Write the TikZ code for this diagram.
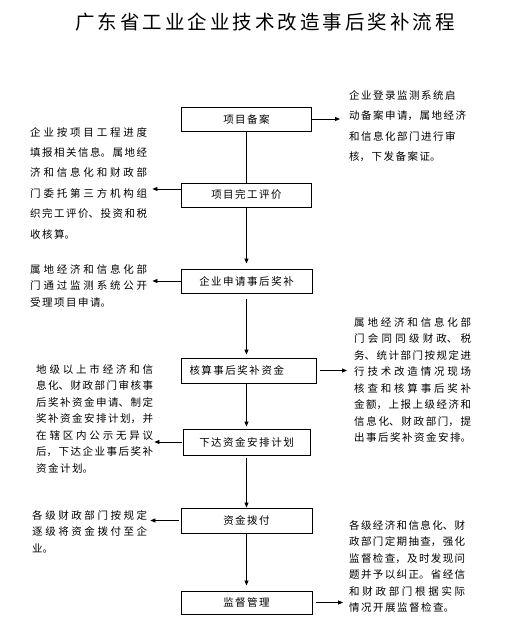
\documentclass[tikz,border=0pt]{standalone}
\usepackage{fontspec}
\setmainfont{Noto Sans CJK SC}
\usetikzlibrary{arrows.meta,positioning}
\XeTeXlinebreaklocale "zh"
\XeTeXlinebreakskip=1.5pt plus 3pt minus 0.4pt
\tikzset{
  stepbox/.style={draw=black, line width=1pt, minimum width=130pt, minimum height=24pt, inner sep=0pt, text width=110pt, align=center, font=\fontsize{10.5}{12}\selectfont, execute at begin node={\XeTeXlinebreakskip=1.5pt\relax}},
  notetext/.style={anchor=base west, inner sep=0pt, text width=117pt, align=justify, font=\fontsize{10.5}{16.5}\selectfont},
  flowline/.style={-{Triangle[length=5pt,width=4pt]}, line width=0.8pt},
  plainline/.style={line width=0.8pt}
}
\begin{document}
\begin{tikzpicture}[x=1pt, y=-1pt]
  \useasboundingbox (0,0) rectangle (507,624);
  \node[anchor=base, inner sep=0pt, text width=380pt, align=justify, font=\fontsize{19.5}{22}\selectfont] (title) at (265,29)
    {广东省工业企业技术改造事后奖补流程\linebreak};
  % main steps
  \node[stepbox] (b1) at (246.5,119) {项目备案};
  \node[stepbox, below=51pt of b1] (b2) {项目完工评价};
  \node[stepbox, below=61pt of b2, minimum width=131pt] (b3) {企业申请事后奖补};
  \node[stepbox, below=64pt of b3, xshift=2pt, minimum height=25pt, text width=118pt, inner xsep=8.5pt, align=left] (b4) {核算事后奖补资金};
  \node[stepbox, below=45pt of b4, xshift=-2pt, minimum width=127pt, minimum height=26pt] (b5) {下达资金安排计划};
  \node[stepbox, below=52pt of b5, minimum width=131pt, minimum height=25pt] (b6) {资金拨付};
  \node[stepbox, below=57pt of b6, minimum width=131pt, minimum height=23pt] (b7) {监督管理};
  % side notes
  \node[notetext, text width=125pt, align=left, font=\fontsize{10.5}{20.5}\selectfont] (r1) at (349,99)
    {企业登录监测系统启\\动备案申请，属地经济\\和信息化部门进行审\\核，下发备案证。};
  \node[notetext, font=\fontsize{10.5}{20.4}\selectfont] (l1) at (30,136)
    {企业按项目工程进度\linebreak
     填报相关信息。属地经\linebreak
     济和信息化和财政部\linebreak
     门委托第三方机构组\linebreak
     织完工评价、投资和税\linebreak
     收核算。};
  \node[notetext] (l2) at (30,273)
    {属地经济和信息化部\linebreak
     门通过监测系统公开\linebreak
     受理项目申请。};
  \node[notetext] (r2) at (354,326)
    {属地经济和信息化部\linebreak
     门会同同级财政、税\linebreak
     务、统计部门按规定进\linebreak
     行技术改造情况现场\linebreak
     核查和核算事后奖补\linebreak
     金额，上报上级经济和\linebreak
     信息化、财政部门，提\linebreak
     出事后奖补资金安排。};
  \node[notetext] (l3) at (36,373)
    {地级以上市经济和信\linebreak
     息化、财政部门审核事\linebreak
     后奖补资金申请、制定\linebreak
     奖补资金安排计划，并\linebreak
     在辖区内公示无异议\linebreak
     后，下达企业事后奖补\linebreak
     资金计划。};
  \node[notetext, text width=115pt] (l4) at (32,519)
    {各级财政部门按规定\linebreak
     逐级将资金拨付至企\linebreak
     业。};
  \node[notetext, text width=116pt] (r3) at (349,529)
    {各级经济和信息化、财\linebreak
     政部门定期抽查，强化\linebreak
     监督检查，及时发现问\linebreak
     题并予以纠正。省经信\linebreak
     和财政部门根据实际\linebreak
     情况开展监督检查。};
  % flow down
  \draw[plainline] (b1.south) -- (b1.south |- b2.north);
  \draw[flowline, shorten >=5pt] (b2.south) -- (b2.south |- b3.north);
  \draw[flowline, shorten <=5pt, shorten >=3pt] (b3.south) -- (b3.south |- b4.north);
  \draw[flowline, shorten >=2pt] (b3.south |- b4.south) -- (b3.south |- b5.north);
  \draw[flowline, shorten <=2pt] (b3.south |- b5.south) -- (b3.south |- b6.north);
  \draw[flowline, shorten >=5pt] (b6.south) -- (b6.south |- b7.north);
  % side arrows
  \draw[flowline, shorten >=9pt] (b1.east) -- (r1.west |- b1.east);
  \draw[flowline, shorten >=5pt] ([yshift=6pt]b2.west) -- ([yshift=6pt]l1.east |- b2.west);
  \draw[flowline, shorten >=5pt] (b3.west) -- (l2.east |- b3.west);
  \draw[flowline, shorten <=3pt, shorten >=7pt] (b4.east) -- (r2.west |- b4.east);
  \draw[flowline, shorten <=1pt, shorten >=1pt] (b5.west) -- (l3.east |- b5.west);
  \draw[flowline, shorten <=2pt, shorten >=3pt] (b6.west) -- (l4.east |- b6.west);
  \draw[flowline, shorten <=3pt, shorten >=6pt] (b7.east) -- (r3.west |- b7.east);
\end{tikzpicture}
\end{document}
